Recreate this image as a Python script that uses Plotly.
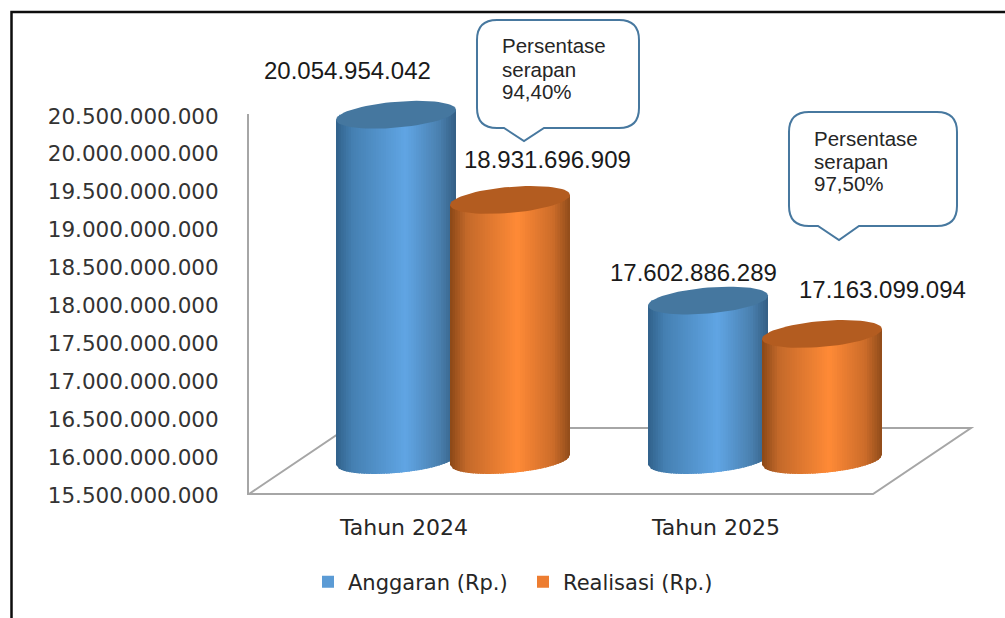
"""Anggaran vs Realisasi chart, cylinders drawn by hand since plotly has no 3D bar."""

import math

import plotly.graph_objects as go

categories = ["Tahun 2024", "Tahun 2025"]
anggaran = [20054954042, 17602886289]
realisasi = [18931696909, 17163099094]
y_ticks = [
    15500000000, 16000000000, 16500000000, 17000000000, 17500000000, 18000000000,
    18500000000, 19000000000, 19500000000, 20000000000, 20500000000,
]
y_tick_labels = [
    "15.500.000.000", "16.000.000.000", "16.500.000.000", "17.000.000.000",
    "17.500.000.000", "18.000.000.000", "18.500.000.000", "19.000.000.000",
    "19.500.000.000", "20.000.000.000", "20.500.000.000",
]
callout_lines = [
    ["Persentase", "serapan", "94,40%"],
    ["Persentase", "serapan", "97,50%"],
]

W, H = 1005, 618
LEFT, RIGHT, BOTTOM = 248, 975, 494
PX_PER_UNIT_Y = 379 / (y_ticks[-1] - y_ticks[0])
PX_PER_CAT = 312
Y_FLOOR = y_ticks[0]
Y_TOP = Y_FLOOR + BOTTOM / PX_PER_UNIT_Y
X_MIN = -0.5
X_MAX = X_MIN + (RIGHT - LEFT) / PX_PER_CAT

# the cylinders stand in the middle of the fake depth
DEPTH_X = 49 / PX_PER_CAT
DEPTH_Y = 34 / PX_PER_UNIT_Y
SERIES_OFFSET = 57 / PX_PER_CAT
RADIUS_X = 60 / PX_PER_CAT
RADIUS_Y = 13 / PX_PER_UNIT_Y
TILT = 5 / PX_PER_UNIT_Y
N_STRIPS = 48
FONT_AXIS = "DejaVu Sans"
FONT_LABEL = "Liberation Sans"

BLUE = {
    "flat": "#5B9BD5",
    "cap": "#45779F",
    "stops": [(0, "#31618A"), (0.14, "#4580B2"), (0.58, "#60A5E4"), (0.86, "#4A80AF"), (1, "#345F84")],
}
ORANGE = {
    "flat": "#ED7D31",
    "cap": "#B35C20",
    "stops": [(0, "#8A4817"), (0.14, "#C4692A"), (0.56, "#FF8A36"), (0.86, "#CC6C2A"), (1, "#8F4C1A")],
}


def px_x(v):
    return (v - LEFT) / (RIGHT - LEFT)


def px_y(v):
    return (BOTTOM - v) / BOTTOM


def shade(stops, t):
    for (t0, c0), (t1, c1) in zip(stops, stops[1:]):
        if t <= t1:
            f = (t - t0) / (t1 - t0)
            rgb = [
                round(int(c0[i:i + 2], 16) * (1 - f) + int(c1[i:i + 2], 16) * f)
                for i in (1, 3, 5)
            ]
            return f"rgb({rgb[0]},{rgb[1]},{rgb[2]})"
    return stops[-1][1]


def lower_arc(cx, cy, x):
    u = max(-1.0, min(1.0, (x - cx) / RADIUS_X))
    return cy + TILT * u - RADIUS_Y * math.sqrt(1 - u * u)


def add_cylinder(fig, cx, value, style):
    base = Y_FLOOR + DEPTH_Y
    top = value + DEPTH_Y
    for i in range(N_STRIPS):
        x0 = cx - RADIUS_X + 2 * RADIUS_X * i / N_STRIPS
        x1 = cx - RADIUS_X + 2 * RADIUS_X * min(i + 1.6, N_STRIPS) / N_STRIPS
        xm = cx - RADIUS_X + 2 * RADIUS_X * min(i + 1, N_STRIPS) / N_STRIPS
        xs = [x0, xm, x1, x1, xm, x0, x0]
        ys = [
            lower_arc(cx, base, x0), lower_arc(cx, base, xm), lower_arc(cx, base, x1),
            top + TILT * (x1 - cx) / RADIUS_X,
            top + TILT * (xm - cx) / RADIUS_X,
            top + TILT * (x0 - cx) / RADIUS_X,
            lower_arc(cx, base, x0),
        ]
        fig.add_trace(
            go.Scatter(
                x=xs, y=ys, mode="lines", fill="toself",
                fillcolor=shade(style["stops"], (i + 0.5) / N_STRIPS),
                line=dict(width=0), hoverinfo="skip", showlegend=False,
            )
        )
    # top cap
    angles = [2 * math.pi * k / 72 for k in range(73)]
    fig.add_trace(
        go.Scatter(
            x=[cx + RADIUS_X * math.cos(a) for a in angles],
            y=[top + TILT * math.cos(a) + RADIUS_Y * math.sin(a) for a in angles],
            mode="lines", fill="toself", fillcolor=style["cap"],
            line=dict(width=0), hoverinfo="skip", showlegend=False,
        )
    )


def callout_path(x0, y0, x1, y1, tail0, tip_x, tip_y, tail1, r):
    def p(x, y):
        return f"{px_x(x):.5f},{px_y(y):.5f}"

    return (
        f"M{p(x0 + r, y0)} L{p(x1 - r, y0)} Q{p(x1, y0)} {p(x1, y0 + r)} "
        f"L{p(x1, y1 - r)} Q{p(x1, y1)} {p(x1 - r, y1)} L{p(tail1, y1)} "
        f"L{p(tip_x, tip_y)} L{p(tail0, y1)} L{p(x0 + r, y1)} "
        f"Q{p(x0, y1)} {p(x0, y1 - r)} L{p(x0, y0 + r)} Q{p(x0, y0)} {p(x0 + r, y0)} Z"
    )


fig = go.Figure()
cat_index = list(range(len(categories)))

# solid bars sit under the shaded strips and carry the legend
for name, values, style, sign in [
    ("Anggaran (Rp.)", anggaran, BLUE, -1),
    ("Realisasi (Rp.)", realisasi, ORANGE, 1),
]:
    fig.add_trace(
        go.Bar(
            x=[i + DEPTH_X + sign * SERIES_OFFSET for i in cat_index],
            y=[v - Y_FLOOR for v in values],
            base=Y_FLOOR + DEPTH_Y,
            width=RADIUS_X * 1.9,
            name=name,
            marker=dict(color=style["flat"], line=dict(width=0)),
            hoverinfo="skip",
        )
    )

for i in cat_index:
    add_cylinder(fig, i + DEPTH_X - SERIES_OFFSET, anggaran[i], BLUE)
    add_cylinder(fig, i + DEPTH_X + SERIES_OFFSET, realisasi[i], ORANGE)

# frame and floor, in paper space
shapes = [
    dict(
        type="path", xref="paper", yref="paper", layer="below",
        path=f"M{px_x(11.5)},{px_y(H + 5)} L{px_x(11.5)},{px_y(12)} L{px_x(W + 5)},{px_y(12)}",
        line=dict(color="#0d0d0d", width=2.5),
    ),
    dict(
        type="path", xref="paper", yref="paper", layer="below",
        path=(
            f"M{px_x(248)},{px_y(114)} L{px_x(248)},{px_y(494)} L{px_x(873)},{px_y(494)} "
            f"L{px_x(971)},{px_y(428)} L{px_x(347)},{px_y(428)} L{px_x(249)},{px_y(494)}"
        ),
        line=dict(color="#A6A6A6", width=2),
    ),
    dict(
        type="path", xref="paper", yref="paper",
        path=callout_path(477, 20, 639, 128, 504, 524, 141, 544, 20),
        fillcolor="white", line=dict(color="#47789F", width=2),
    ),
    dict(
        type="path", xref="paper", yref="paper",
        path=callout_path(789, 112, 957, 226, 818, 839, 240, 859, 20),
        fillcolor="white", line=dict(color="#47789F", width=2),
    ),
]

annotations = []
value_labels = [
    (anggaran[0], 347, 71),
    (realisasi[0], 547, 159),
    (anggaran[1], 693, 272),
    (realisasi[1], 882, 289),
]
for value, lx, ly in value_labels:
    annotations.append(
        dict(
            x=px_x(lx), y=px_y(ly), xref="paper", yref="paper", showarrow=False,
            text=f"{value:,}".replace(",", "."), xanchor="center", yanchor="middle",
            font=dict(family=FONT_LABEL, size=24, color="#1a1a1a"),
        )
    )
for lines, tx, line_ys in [
    (callout_lines[0], 502, (46, 69, 91)),
    (callout_lines[1], 814, (138, 161, 183)),
]:
    for line, ly in zip(lines, line_ys):
        annotations.append(
            dict(
                x=px_x(tx), y=px_y(ly), xref="paper", yref="paper", showarrow=False,
                text=line, xanchor="left", yanchor="middle", xshift=-2,
                font=dict(family=FONT_LABEL, size=20.5, color="#262626"),
            )
        )

fig.update_layout(
    width=W,
    height=H,
    margin=dict(l=LEFT, r=W - RIGHT, t=0, b=H - BOTTOM, autoexpand=False),
    paper_bgcolor="white",
    plot_bgcolor="rgba(0,0,0,0)",
    barmode="overlay",
    shapes=shapes,
    annotations=annotations,
    legend=dict(
        orientation="h", xref="paper", yref="paper", x=px_x(308), y=px_y(582),
        xanchor="left", yanchor="middle", entrywidth=170, entrywidthmode="pixels",
        font=dict(family=FONT_AXIS, size=21, color="#262626"),
        bgcolor="rgba(0,0,0,0)",
    ),
    xaxis=dict(
        range=[X_MIN, X_MAX], tickmode="array", tickvals=cat_index, ticktext=categories,
        showgrid=False, zeroline=False, showline=False, ticks="outside", ticklen=14,
        tickcolor="rgba(0,0,0,0)", tickfont=dict(family=FONT_AXIS, size=22, color="#262626"),
    ),
    yaxis=dict(
        range=[Y_FLOOR, Y_TOP], tickmode="array", tickvals=y_ticks, ticktext=y_tick_labels,
        showgrid=False, zeroline=False, showline=False, ticks="outside", ticklen=24,
        tickcolor="rgba(0,0,0,0)", tickfont=dict(family=FONT_AXIS, size=21.5, color="#333333"),
        ticklabelshift=1,
    ),
)

# the page's default body margin would push everything 8px off
fig.write_html("out.html", config={"displayModeBar": False}, post_script="document.body.style.margin='0';")
